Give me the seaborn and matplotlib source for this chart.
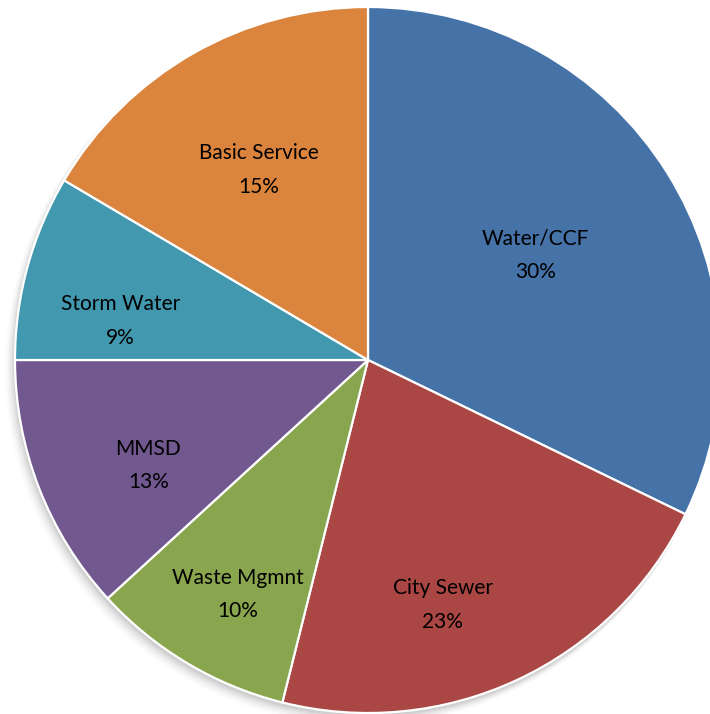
import matplotlib
matplotlib.use("Agg")
import matplotlib.pyplot as plt
import seaborn as sns
import numpy as np

# ---- data ----
categories = ["Water/CCF", "City Sewer", "Waste Mgmnt", "MMSD", "Storm Water", "Basic Service"]
shares = [32.2, 21.7, 9.3, 11.8, 8.5, 16.5]          # slice sizes as drawn
pct_labels = ["30%", "23%", "10%", "13%", "9%", "15%"]  # labels as printed
colors_hex = ["#4572A7", "#AA4643", "#89A54E", "#71588F", "#4198AF", "#DB843D"]

# ---- layout (label radial fraction, angle offset in degrees) ----
label_layout = [(0.56, 0.0), (0.725, -8.0), (0.76, 1.8), (0.69, 4.4), (0.71, 6.4), (0.62, 0.2)]

sns.set_theme(style="white")
plt.rcParams['font.family'] = ['Lato', 'DejaVu Sans']

W, H = 710, 714
fig = plt.figure(figsize=(W / 100, H / 100), dpi=100)
ax = fig.add_axes([0, 0, 1, 1])

cx, cy, R = 368, 360, 353
palette = sns.color_palette(colors_hex)

# soft shadow
for i, a in enumerate(np.linspace(0.05, 0.012, 6)):
    c = plt.Circle((-0.004 - 0.003 * i, -0.010 - 0.003 * i), 1.0 + 0.002 * i,
                   color="black", alpha=a, lw=0, zorder=0)
    ax.add_patch(c)

wedges, _ = ax.pie(shares, colors=palette, startangle=90, counterclock=False,
                   radius=1.0, center=(0, 0),
                   wedgeprops=dict(edgecolor="white", linewidth=1.6, zorder=2))

total = sum(shares)
start = 90.0
for i, (cat, pl) in enumerate(zip(categories, pct_labels)):
    span = shares[i] / total * 360.0
    mid = start - span / 2
    start -= span
    rf, off = label_layout[i]
    ang = np.deg2rad(mid + off)
    x, y = rf * np.cos(ang), rf * np.sin(ang)
    ax.text(x, y, f"{cat}\n{pl}", ha="center", va="center", fontsize=15,
            color="black", linespacing=1.85, zorder=5)

ax.set_xlim((0 - cx) / R, (W - cx) / R)
ax.set_ylim((cy - H) / R, (cy - 0) / R)
ax.set_aspect("auto")
ax.axis("off")

fig.savefig("out.png", dpi=100, facecolor="white")
